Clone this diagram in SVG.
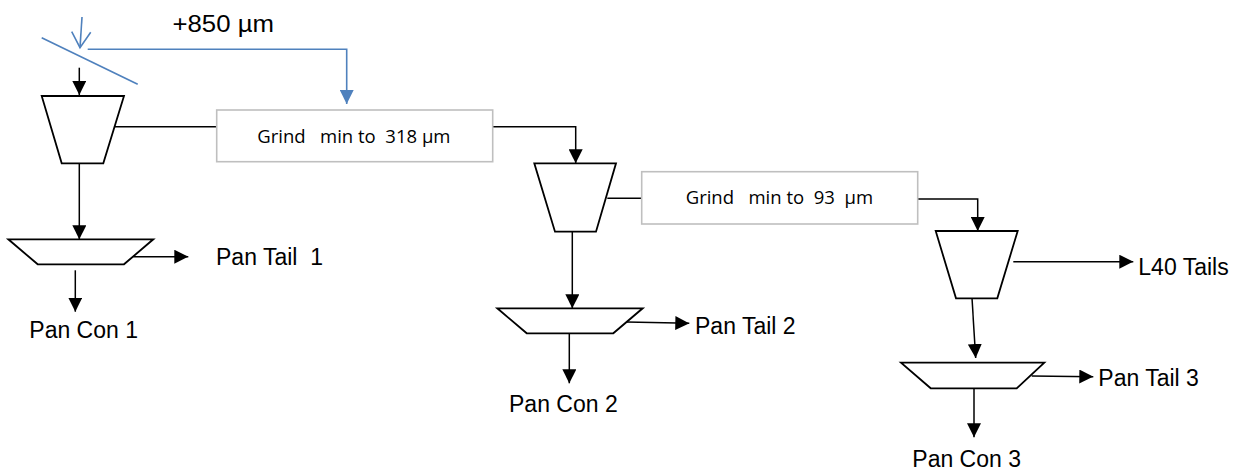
<svg xmlns="http://www.w3.org/2000/svg" width="1249" height="471" viewBox="0 0 1249 471">
<style>
.shape{fill:#fff;stroke:#000;stroke-width:1.8}
.box{fill:#fff;stroke:#bfbfbf;stroke-width:1.6}
.c{fill:none;stroke:#000;stroke-width:1.5}
.ca{fill:none;stroke:#000;stroke-width:1.5;marker-end:url(#ah)}
.b{fill:none;stroke:#4f81bd;stroke-width:1.6}
.lbl{font-family:"Liberation Sans",Arial,sans-serif;font-size:23px;fill:#000;white-space:pre}
.gt{font-family:"Open Sans","Liberation Sans",sans-serif;font-size:18.5px;fill:#000;white-space:pre}
</style>
<defs>
<marker id="ah" markerUnits="userSpaceOnUse" markerWidth="14" markerHeight="14" refX="14" refY="7" orient="auto"><path d="M0,0 L14,7 L0,14 z" fill="#000"/></marker>
<marker id="ahb" markerUnits="userSpaceOnUse" markerWidth="14" markerHeight="14" refX="14" refY="7" orient="auto"><path d="M0,0 L14,7 L0,14 z" fill="#4f81bd"/></marker>
</defs>
<g id="connectors">
<path class="b" d="M87.7,49.3 H346.7 V104" style="marker-end:url(#ahb)"/>
<path class="ca" d="M79.3,67.7 V95"/>
<path class="c" d="M115,126.7 H216.7"/>
<path class="ca" d="M492.7,126.7 H575.7 V163.3"/>
<path class="ca" d="M79.3,163.3 V239.3"/>
<path class="ca" d="M133.3,256.7 H188.3"/>
<path class="ca" d="M75.3,270.3 V311.7"/>
<path class="c" d="M607.3,198.3 H641.7"/>
<path class="ca" d="M917.7,199 H977.7 V231"/>
<path class="ca" d="M572.3,231.7 V308.3"/>
<path class="ca" d="M626.7,322 L689.3,323.3"/>
<path class="ca" d="M569.3,333.3 V383.3"/>
<path class="ca" d="M1013.3,261.7 H1133.3"/>
<path class="ca" d="M972,298.3 L975.7,358"/>
<path class="ca" d="M1031.7,376 L1093.3,376.7"/>
<path class="ca" d="M974,388.3 V437.3"/>
</g>
<g id="screen">
<path class="b" d="M41.7,37.7 L137.7,84.3"/>
<path class="b" d="M82,17 L80,47.7"/>
<path class="b" d="M71.7,31.7 L80,47.7 L90.7,32.3"/>
<text class="lbl" x="172.5" y="32.3" textLength="101.5" lengthAdjust="spacingAndGlyphs">+850 µm</text>
</g>
<g id="classifier1"><polygon class="shape" points="41.7,96 124,96 103.3,163.3 61.7,163.3"/></g>
<g id="grind1">
<rect class="box" x="216.7" y="110" width="276" height="51.7"/>
<text class="gt" x="257.3" y="142.7">Grind   min to  318 µm</text>
</g>
<g id="pan1">
<polygon class="shape" points="8.3,239.3 153.3,239.3 124,264.3 37.7,264.3"/>
<text class="lbl" x="216" y="265.3">Pan Tail  1</text>
<text class="lbl" x="29.3" y="338.3">Pan Con 1</text>
</g>
<g id="classifier2"><polygon class="shape" points="534.3,163.3 616,163.3 596,231.7 555,231.7"/></g>
<g id="grind2">
<rect class="box" x="641.7" y="171.7" width="276" height="52.3"/>
<text class="gt" x="685.7" y="204.3">Grind   min to  93  µm</text>
</g>
<g id="pan2">
<polygon class="shape" points="497.3,308.3 642.7,308.3 613.3,333.3 526.7,333.3"/>
<text class="lbl" x="695" y="334">Pan Tail 2</text>
<text class="lbl" x="509" y="412.3">Pan Con 2</text>
</g>
<g id="classifier3">
<polygon class="shape" points="935.7,231 1017.7,231 997.3,298.3 956,298.3"/>
<text class="lbl" x="1138.3" y="275">L40 Tails</text>
</g>
<g id="pan3">
<polygon class="shape" points="901,362.7 1044.3,362.7 1016.7,388.3 930.7,388.3"/>
<text class="lbl" x="1098.3" y="386">Pan Tail 3</text>
<text class="lbl" x="912.3" y="467.3">Pan Con 3</text>
</g>
</svg>
